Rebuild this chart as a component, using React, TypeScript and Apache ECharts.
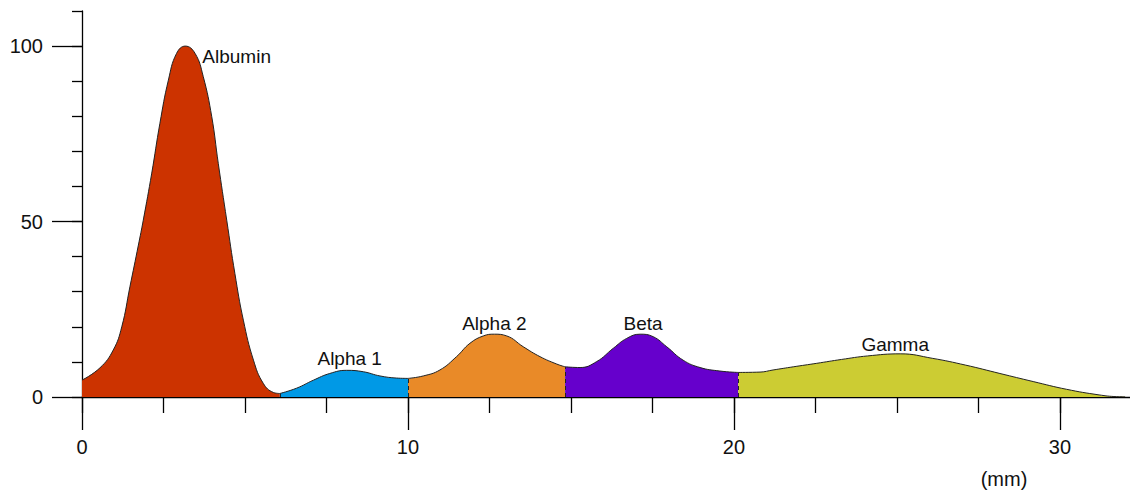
import React, { useEffect, useRef } from "react";
import * as echarts from "echarts";

// Densitometry profile of serum protein electrophoresis
const albumin: [number, number][] = [
  [0, 4.8], [0.55, 8.3], [0.96, 13.4], [1.22, 20], [1.47, 31.4], [1.73, 43.3],
  [1.88, 50.4], [2.14, 63.8], [2.39, 78], [2.65, 90.3], [2.9, 97.9], [3.17, 100],
  [3.47, 97.9], [3.72, 91.3], [3.98, 79.9], [4.18, 66.6], [4.44, 50.4], [4.69, 35.2],
  [4.95, 21.9], [5.26, 10.5], [5.56, 3.9], [5.87, 1.3], [6.07, 1.0],
];
const alpha1: [number, number][] = [
  [6.07, 1.0], [6.58, 2.5], [7.1, 4.8], [7.6, 6.7], [8.12, 7.6], [8.63, 7.2],
  [9.14, 6.0], [9.65, 5.4], [10.0, 5.3],
];
const alpha2: [number, number][] = [
  [10.0, 5.3], [10.47, 6.0], [10.98, 7.7], [11.49, 11.5], [11.9, 15.3], [12.31, 17.4],
  [12.65, 17.9], [13.03, 17.4], [13.54, 14.3], [14.05, 11.5], [14.56, 9.4], [14.82, 8.6],
];
const beta: [number, number][] = [
  [14.82, 8.6], [15.28, 8.4], [15.79, 10.1], [16.3, 13.9], [16.71, 16.7], [17.12, 17.9],
  [17.52, 17.2], [17.94, 14.3], [18.44, 10.5], [18.96, 8.4], [19.57, 7.4], [20.13, 7.0],
];
const gamma: [number, number][] = [
  [20.13, 7.0], [20.8, 7.1], [21.2, 7.7], [21.82, 8.6], [22.54, 9.6], [23.3, 10.7],
  [24.1, 11.7], [25.1, 12.3], [26.1, 11.0], [27.1, 9.1], [28.16, 6.7], [29.18, 4.4],
  [30.2, 2.2], [31.2, 0.6], [31.74, 0.1], [32.0, 0.05],
];

const fractionNames = ["Albumin", "Alpha 1", "Alpha 2", "Beta", "Gamma"];
const fractionData = [albumin, alpha1, alpha2, beta, gamma];
const fractionColors = ["#CC3300", "#0099E6", "#E98A28", "#6600CC", "#CCCC33"];

const xMajorTicks = [0, 10, 20, 30];
const xMinorTicks = [0, 2.5, 5, 7.5, 10, 12.5, 15, 17.5, 20, 22.5, 25, 27.5, 30];
const yMajorTicks = [0, 50, 100];
const yMinorTicks = [0, 10, 20, 30, 40, 50, 60, 70, 80, 90, 100, 110];
const xUnit = "(mm)";

const FONT = "'Liberation Sans', Arial, Helvetica, sans-serif";

export default function App() {
  const ref = useRef<HTMLDivElement>(null);
  useEffect(() => {
    if (!ref.current) return;
    const chart = echarts.init(ref.current, null, { renderer: "svg" });

    const labelOffsets: any[] = [
      { position: "right", offset: [12, 10] },
      { position: "top", offset: [3, 3] },
      { position: "top", offset: [0, 4] },
      { position: "top", offset: [3, 4] },
      { position: "top", offset: [-5, 5] },
    ];

    const series: any[] = fractionData.map((d, i) => {
      let peak = d[0];
      d.forEach((p) => {
        if (p[1] > peak[1]) peak = p;
      });
      const s: any = {
        type: "line",
        name: fractionNames[i],
        data: d,
        xAxisIndex: 0,
        yAxisIndex: 0,
        smooth: 0.45,
        showSymbol: false,
        symbol: "none",
        lineStyle: { color: "#222", width: 1 },
        areaStyle: { color: fractionColors[i], opacity: 1 },
        z: 2,
        markPoint: {
          symbol: "circle",
          symbolSize: 0,
          silent: true,
          data: [{ coord: peak, value: fractionNames[i] }],
          label: {
            show: true,
            formatter: fractionNames[i],
            position: labelOffsets[i].position,
            offset: labelOffsets[i].offset,
            color: "#111",
            fontSize: 19,
            fontFamily: FONT,
          },
        },
      };
      if (i > 0) {
        s.markLine = {
          silent: true,
          symbol: ["none", "none"],
          label: { show: false },
          lineStyle: { color: "#222", width: 1, type: [4, 3] },
          data: [[{ coord: [d[0][0], 0] }, { coord: [d[0][0], d[0][1]] }]],
        };
      }
      return s;
    });

    const axisLineStyle = { color: "#000", width: 1.3 };

    chart.setOption({
      animation: false,
      grid: { left: 82, right: 0, top: 11, bottom: 96, containLabel: false },
      xAxis: [
        {
          type: "value",
          position: "bottom",
          min: 0,
          max: 32.15,
          interval: 2.5,
          axisLine: { show: true, lineStyle: axisLineStyle },
          axisTick: { show: true, length: 16, lineStyle: axisLineStyle, customValues: xMinorTicks },
          axisLabel: { show: false },
          splitLine: { show: false },
        },
        {
          type: "value",
          position: "bottom",
          min: 0,
          max: 32.15,
          interval: 10,
          axisLine: { show: false },
          axisTick: { show: true, length: 33, lineStyle: axisLineStyle, customValues: xMajorTicks },
          axisLabel: {
            show: true,
            customValues: xMajorTicks,
            margin: 40,
            fontSize: 20,
            color: "#111",
            fontFamily: FONT,
            formatter: (v: number) => (xMajorTicks.includes(v) ? String(v) : ""),
          },
          splitLine: { show: false },
        },
      ],
      yAxis: [
        {
          type: "value",
          position: "left",
          min: 0,
          max: 110,
          interval: 10,
          axisLine: { show: true, lineStyle: axisLineStyle },
          axisTick: { show: true, length: 10, lineStyle: axisLineStyle, customValues: yMinorTicks },
          axisLabel: { show: false },
          splitLine: { show: false },
        },
        {
          type: "value",
          position: "left",
          min: 0,
          max: 110,
          interval: 50,
          axisLine: { show: false },
          axisTick: { show: true, length: 30, lineStyle: axisLineStyle, customValues: yMajorTicks },
          axisLabel: {
            show: true,
            customValues: yMajorTicks,
            margin: 39,
            fontSize: 20,
            color: "#111",
            fontFamily: FONT,
            formatter: (v: number) => (yMajorTicks.includes(v) ? String(v) : ""),
          },
          splitLine: { show: false },
        },
      ],
      graphic: [
        {
          type: "text",
          x: 1004,
          y: 479,
          style: {
            text: xUnit,
            fill: "#111",
            font: `20px ${FONT}`,
            textAlign: "center",
            textVerticalAlign: "middle",
          },
        },
      ],
      series,
    });

    return () => chart.dispose();
  }, []);

  return (
    <div
      ref={ref}
      style={{ position: "fixed", left: 0, top: 0, width: 1130, height: 493, background: "#fff" }}
    />
  );
}
